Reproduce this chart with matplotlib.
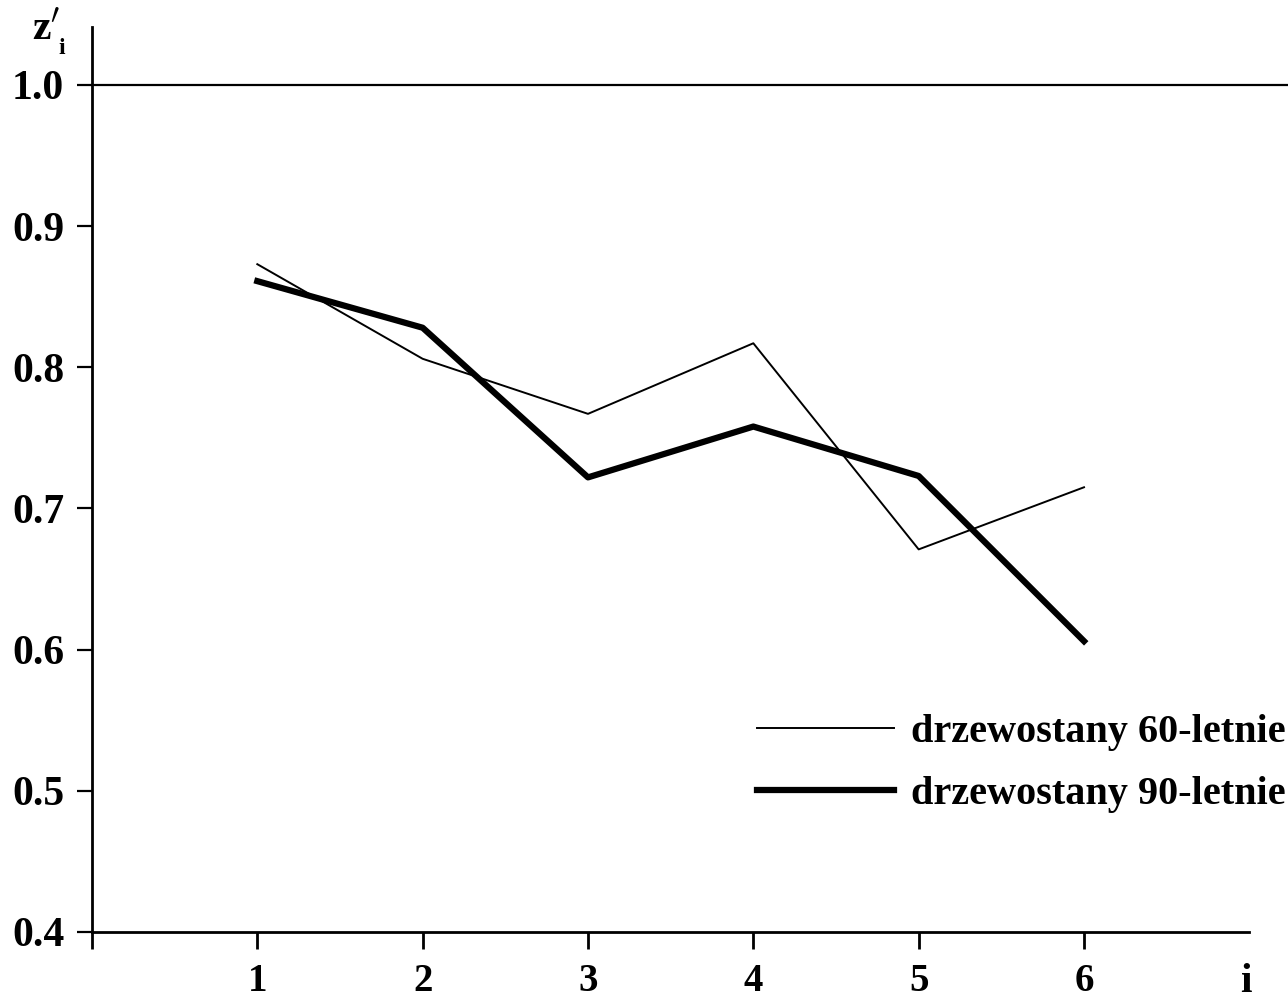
import matplotlib.pyplot as plt

# wiek klasy i, wartosci z'_i
klasy = [1, 2, 3, 4, 5, 6]
z_60 = [0.873, 0.806, 0.767, 0.817, 0.671, 0.715]
z_90 = [0.861, 0.828, 0.722, 0.758, 0.723, 0.606]
yticks = [0.4, 0.5, 0.6, 0.7, 0.8, 0.9, 1.0]
ytick_labels = ['0.4', '0.5', '0.6', '0.7', '0.8', '0.9', '1.0']

plt.rcParams['font.family'] = ['Liberation Serif', 'DejaVu Serif']
plt.rcParams['font.weight'] = 'bold'

fig = plt.figure(figsize=(12.88, 10), dpi=100)
ax = fig.add_axes([0.0714, 0.068, 0.8986, 0.905])

ax.plot(klasy, z_60, color='black', lw=1.4, label='drzewostany 60-letnie')
ax.plot(klasy, z_90, color='black', lw=4.5, label='drzewostany 90-letnie')
ax.plot([0, 7.23], [1.0, 1.0], color='black', lw=1.6, clip_on=False)

ax.set_xlim(0, 7)
ax.set_ylim(0.4, 1.041)

for s in ['top', 'right']:
    ax.spines[s].set_visible(False)
for s in ['left', 'bottom']:
    ax.spines[s].set_linewidth(2)

ax.set_xticks([0] + klasy)
ax.set_xticklabels([''] + [str(k) for k in klasy])
ax.set_yticks(yticks)
ax.set_yticklabels(ytick_labels)
ax.tick_params(axis='x', direction='out', length=12, width=2, labelsize=28, pad=10)
ax.tick_params(axis='y', direction='out', length=11, width=1.6, labelsize=30, pad=9)

# opis osi y: z'_i
ax.text(-0.36, 1.039, "z$'$", fontsize=30, fontweight='bold', ha='left',
        va='center', clip_on=False)
ax.text(-0.2, 1.026, 'i', fontsize=17, fontweight='bold', ha='left',
        va='center', clip_on=False)
# opis osi x
ax.text(6.98, 0.378, 'i', fontsize=30, fontweight='bold', ha='center',
        va='top', clip_on=False)

ax.legend(loc='center right', bbox_to_anchor=(1.031, 0.186), frameon=False,
          borderpad=0, borderaxespad=0, handlelength=3.4,
          handletextpad=0.42, labelspacing=0.62,
          prop={'family': 'Liberation Serif', 'weight': 'bold', 'size': 29})

plt.savefig('out.png', dpi=100)
